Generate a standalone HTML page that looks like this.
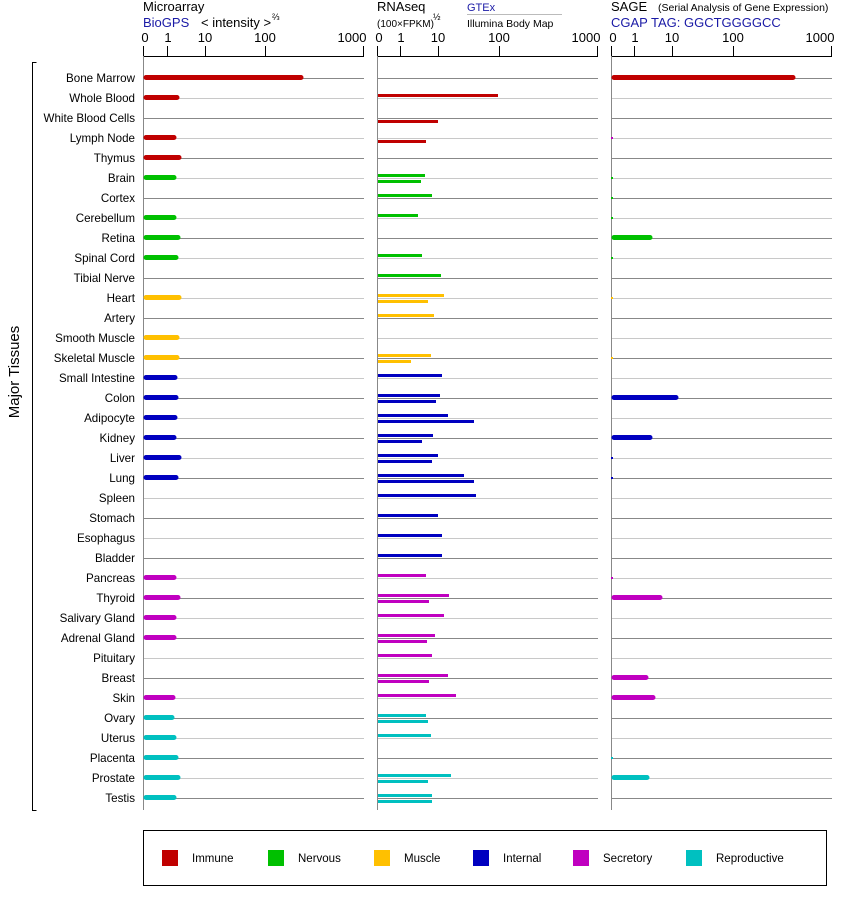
<!DOCTYPE html>
<html><head><meta charset="utf-8"><style>
body{margin:0;background:#fff}
svg{display:block;font-family:"Liberation Sans",sans-serif}
.l{font-size:11.6px;text-anchor:end}
.t{font-size:13px}
.tk{font-size:13px;text-anchor:middle}
</style></head><body>
<svg width="842" height="900" viewBox="0 0 842 900" xmlns="http://www.w3.org/2000/svg">
<defs>
<pattern id="g" patternUnits="userSpaceOnUse" x="0" y="78" width="10" height="40">
<rect x="0" y="0" width="10" height="1" fill="#888"/>
<rect x="0" y="20" width="10" height="1" fill="#c8c8c8"/>
</pattern>
</defs>
<rect x="143" y="78" width="221" height="722" fill="url(#g)"/>
<rect x="377" y="78" width="221" height="722" fill="url(#g)"/>
<rect x="611" y="78" width="221" height="722" fill="url(#g)"/>
<!-- headers -->
<text x="143" y="11" class="t">Microarray</text>
<text x="143" y="27" class="t" fill="#1a1aa6">BioGPS</text>
<text x="201" y="27" class="t">&lt; intensity &gt;</text>
<text x="272" y="20" font-size="9">⅔</text>
<text x="377" y="11" class="t">RNAseq</text>
<text x="377" y="27" font-size="10">(100×FPKM)</text>
<text x="433" y="20" font-size="9">½</text>
<text x="467" y="11" font-size="11" fill="#1a1aa6">GTEx</text>
<rect x="467" y="14" width="95" height="1" fill="#bbb"/>
<text x="467" y="27" font-size="10.5">Illumina Body Map</text>
<text x="611" y="11" class="t">SAGE</text>
<text x="658" y="11" font-size="10.5">(Serial Analysis of Gene Expression)</text>
<text x="611" y="27" class="t" fill="#1a1aa6">CGAP TAG: GGCTGGGGCC</text>
<!-- axes -->
<g stroke="#000" stroke-width="1" fill="none">
<path d="M143.5 56.5H364M143.5 46V56M167.5 46V56M205.5 46V56M265.5 46V56M363.5 46V56"/>
<path d="M377.5 56.5H598M377.5 46V56M400.5 46V56M438.5 46V56M499.5 46V56M597.5 46V56"/>
<path d="M611.5 56.5H832M611.5 46V56M634.5 46V56M672.5 46V56M733.5 46V56M831.5 46V56"/>
</g>
<g stroke="#888" stroke-width="1">
<path d="M143.5 56V810M377.5 56V810M611.5 56V810"/>
</g>
<g class="tk">
<text x="145" y="42" class="tk">0</text><text x="168" y="42" class="tk">1</text><text x="205" y="42" class="tk">10</text><text x="265" y="42" class="tk">100</text><text x="352" y="42" class="tk">1000</text>
<text x="379" y="42" class="tk">0</text><text x="401" y="42" class="tk">1</text><text x="438" y="42" class="tk">10</text><text x="499" y="42" class="tk">100</text><text x="586" y="42" class="tk">1000</text>
<text x="613" y="42" class="tk">0</text><text x="635" y="42" class="tk">1</text><text x="672" y="42" class="tk">10</text><text x="733" y="42" class="tk">100</text><text x="820" y="42" class="tk">1000</text>
</g>
<!-- bracket & axis title -->
<path d="M36.5 62.5H32.5V810.5H36.5" stroke="#000" fill="none"/>
<text transform="translate(19,372) rotate(-90)" font-size="15" text-anchor="middle">Major Tissues</text>
<!-- labels -->
<g class="l">
<text x="135" y="82" class="l">Bone Marrow</text>
<text x="135" y="102" class="l">Whole Blood</text>
<text x="135" y="122" class="l">White Blood Cells</text>
<text x="135" y="142" class="l">Lymph Node</text>
<text x="135" y="162" class="l">Thymus</text>
<text x="135" y="182" class="l">Brain</text>
<text x="135" y="202" class="l">Cortex</text>
<text x="135" y="222" class="l">Cerebellum</text>
<text x="135" y="242" class="l">Retina</text>
<text x="135" y="262" class="l">Spinal Cord</text>
<text x="135" y="282" class="l">Tibial Nerve</text>
<text x="135" y="302" class="l">Heart</text>
<text x="135" y="322" class="l">Artery</text>
<text x="135" y="342" class="l">Smooth Muscle</text>
<text x="135" y="362" class="l">Skeletal Muscle</text>
<text x="135" y="382" class="l">Small Intestine</text>
<text x="135" y="402" class="l">Colon</text>
<text x="135" y="422" class="l">Adipocyte</text>
<text x="135" y="442" class="l">Kidney</text>
<text x="135" y="462" class="l">Liver</text>
<text x="135" y="482" class="l">Lung</text>
<text x="135" y="502" class="l">Spleen</text>
<text x="135" y="522" class="l">Stomach</text>
<text x="135" y="542" class="l">Esophagus</text>
<text x="135" y="562" class="l">Bladder</text>
<text x="135" y="582" class="l">Pancreas</text>
<text x="135" y="602" class="l">Thyroid</text>
<text x="135" y="622" class="l">Salivary Gland</text>
<text x="135" y="642" class="l">Adrenal Gland</text>
<text x="135" y="662" class="l">Pituitary</text>
<text x="135" y="682" class="l">Breast</text>
<text x="135" y="702" class="l">Skin</text>
<text x="135" y="722" class="l">Ovary</text>
<text x="135" y="742" class="l">Uterus</text>
<text x="135" y="762" class="l">Placenta</text>
<text x="135" y="782" class="l">Prostate</text>
<text x="135" y="802" class="l">Testis</text>
</g>
<!-- microarray bars -->
<g stroke-width="5" stroke-linecap="round">
<g stroke="#c00000"><path d="M146 77.5H301M146 97.5H177M146 137.5H174M146 157.5H179"/></g>
<g stroke="#00c000"><path d="M146 177.5H174M146 217.5H174M146 237.5H178M146 257.5H176"/></g>
<g stroke="#ffc000"><path d="M146 297.5H179M146 337.5H177M146 357.5H177"/></g>
<g stroke="#0000c0"><path d="M146 377.5H175M146 397.5H176M146 417.5H175M146 437.5H174M146 457.5H179M146 477.5H176"/></g>
<g stroke="#c000c0"><path d="M146 577.5H174M146 597.5H178M146 617.5H174M146 637.5H174M146 697.5H173"/></g>
<g stroke="#00c0c0"><path d="M146 717.5H172M146 737.5H174M146 757.5H176M146 777.5H178M146 797.5H174"/></g>
<!-- SAGE -->
<g stroke="#c00000"><path d="M614 77.5H793"/></g>
<g stroke="#0000c0"><path d="M614 397.5H676M614 437.5H650"/></g>
<g stroke="#00c000"><path d="M614 237.5H650"/></g>
<g stroke="#c000c0"><path d="M614 597.5H660M614 677.5H646M614 697.5H653"/></g>
<g stroke="#00c0c0"><path d="M614 777.5H647"/></g>
</g>
<g stroke-width="2">
<path d="M611 138H613" stroke="#c000c0"/>
<path d="M611 178H613M611 198H613M611 218H613M611 258H613" stroke="#00c000"/>
<path d="M611 298H613M611 358H613" stroke="#ffc000"/>
<path d="M611 458H613M611 478H613" stroke="#0000c0"/>
<path d="M611 578H613" stroke="#c000c0"/>
<path d="M611 758H613" stroke="#00c0c0"/>
</g>
<!-- RNAseq bars -->
<g stroke-width="3">
<g stroke="#c00000"><path d="M378 95.5H498M378 121.5H438M378 141.5H426"/></g>
<g stroke="#00c000"><path d="M378 175.5H425M378 181.5H421M378 195.5H432M378 215.5H418M378 255.5H422M378 275.5H441"/></g>
<g stroke="#ffc000"><path d="M378 295.5H444M378 301.5H428M378 315.5H434M378 355.5H431M378 361.5H411"/></g>
<g stroke="#0000c0"><path d="M378 375.5H442M378 395.5H440M378 401.5H436M378 415.5H448M378 421.5H474M378 435.5H433M378 441.5H422M378 455.5H438M378 461.5H432M378 475.5H464M378 481.5H474M378 495.5H476M378 515.5H438M378 535.5H442M378 555.5H442"/></g>
<g stroke="#c000c0"><path d="M378 575.5H426M378 595.5H449M378 601.5H429M378 615.5H444M378 635.5H435M378 641.5H427M378 655.5H432M378 675.5H448M378 681.5H429M378 695.5H456"/></g>
<g stroke="#00c0c0"><path d="M378 715.5H426M378 721.5H428M378 735.5H431M378 775.5H451M378 781.5H428M378 795.5H432M378 801.5H432"/></g>
</g>
<!-- legend -->
<rect x="143.5" y="830.5" width="683" height="55" fill="none" stroke="#000"/>
<rect x="162" y="850" width="16" height="16" fill="#c00000"/><text x="192" y="862" font-size="11.5">Immune</text>
<rect x="268" y="850" width="16" height="16" fill="#00c000"/><text x="298" y="862" font-size="11.5">Nervous</text>
<rect x="374" y="850" width="16" height="16" fill="#ffc000"/><text x="404" y="862" font-size="11.5">Muscle</text>
<rect x="473" y="850" width="16" height="16" fill="#0000c0"/><text x="503" y="862" font-size="11.5">Internal</text>
<rect x="573" y="850" width="16" height="16" fill="#c000c0"/><text x="603" y="862" font-size="11.5">Secretory</text>
<rect x="686" y="850" width="16" height="16" fill="#00c0c0"/><text x="716" y="862" font-size="11.5">Reproductive</text>
</svg>
</body></html>
